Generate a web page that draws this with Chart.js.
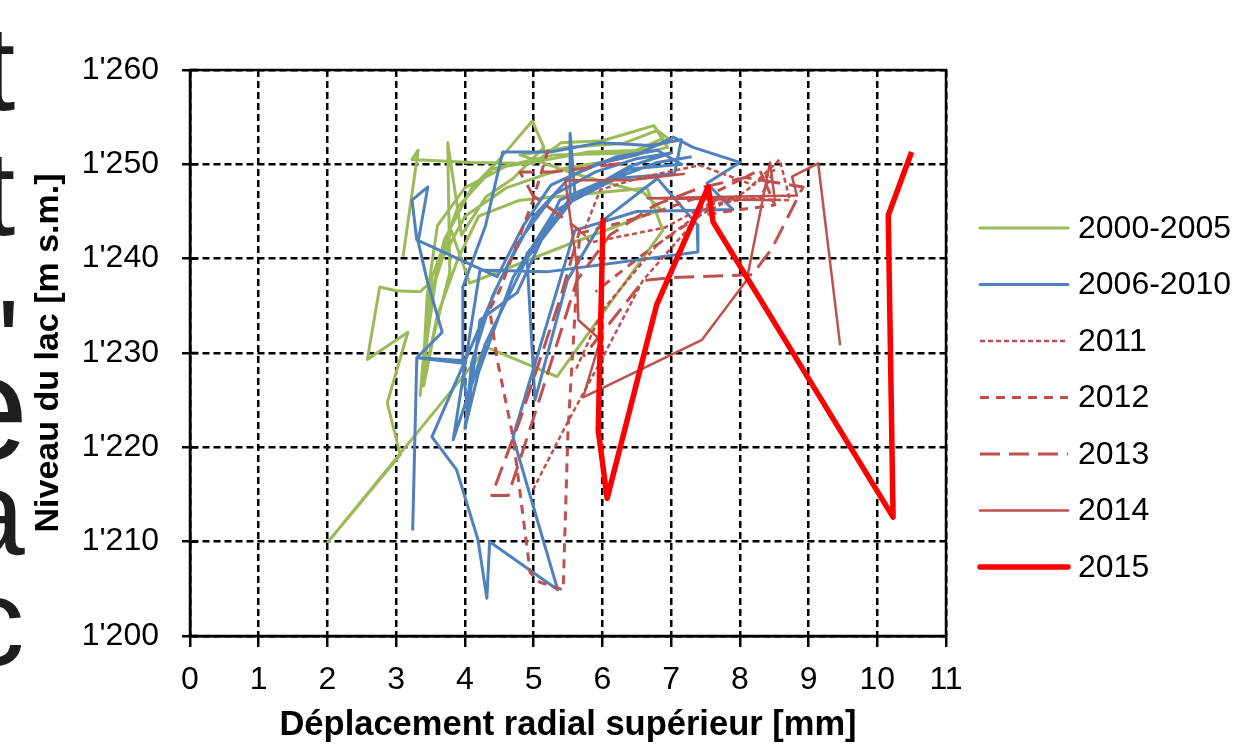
<!DOCTYPE html>
<html>
<head>
<meta charset="utf-8">
<script src="https://cdn.jsdelivr.net/npm/chart.js@4.4.0/dist/chart.umd.min.js"></script>
<style>
  html, body { margin: 0; padding: 0; background: #fff; overflow: hidden; }
  .page { position: relative; width: 1236px; height: 749px; }
  .chart-container { position: absolute; left: 0; top: 0; width: 1236px; height: 749px; }
  .edge-letter { position: absolute; font-family: 'Liberation Sans', Arial, sans-serif; line-height: 1; color: #1e1e1e; }
</style>
</head>
<body>
<div class="page">
  <div class="edge-letter" style="left:-18px; top:8px; font-size:120px;">t</div>
  <div class="edge-letter" style="left:-18px; top:133px; font-size:120px;">t</div>
  <div class="edge-letter" style="left:-3px; top:282px; font-size:120px;">'</div>
  <div class="edge-letter" style="left:-55px; top:333px; font-size:150px;">e</div>
  <div class="edge-letter" style="left:-42px; top:453px; font-size:120px;">a</div>
  <div class="edge-letter" style="left:-38px; top:559px; font-size:125px;">c</div>
  <div class="chart-container"><canvas id="chart" width="1236" height="749"></canvas></div>
</div>
<script>
// series names (legend order)
const seriesNames = ['2000-2005', '2006-2010', '2011', '2012', '2013', '2014', '2015'];

// axis ranges / ticks
const xMin = 0, xMax = 11, xStep = 1;
const yMin = 1200, yMax = 1260, yStep = 10;

// 2000-2005
const g0005X = [3.10, 3.32, 3.23, 4.10, 5.00, 5.40, 6.00, 6.75, 6.95, 6.20, 5.40, 4.60, 4.00, 3.60, 3.38, 3.35, 3.45, 3.70, 4.10, 4.50, 4.98, 5.15, 4.70, 4.30, 3.95, 3.75, 3.78, 3.55, 3.40, 3.50, 3.35, 3.00, 2.76, 2.58, 3.17, 2.87, 3.06, 2.01, 4.32, 5.34, 6.88, 6.65, 4.80, 4.20, 3.90, 3.60, 3.40, 3.50, 3.80, 4.07, 5.50, 6.85, 6.60, 5.60, 4.80, 5.50, 6.30, 6.80, 7.00, 6.60, 5.80,
  5.20, 4.60, 4.00, 3.60, 3.45, 3.38, 3.52, 3.90, 4.40, 5.30, 6.40, 6.90];
const g0005Y = [1240.2, 1251.5, 1250.5, 1250.2, 1250.1, 1252.3, 1252.5, 1254.1, 1251.8, 1250.5, 1249.5, 1247.5, 1244.5, 1239.0, 1228.0, 1225.5, 1234.0, 1242.0, 1247.5, 1250.5, 1254.6, 1251.8, 1248.5, 1246.5, 1242.5, 1252.3, 1238.5, 1232.0, 1226.5, 1237.5, 1236.5, 1236.6, 1237.0, 1229.3, 1232.2, 1224.7, 1219.2, 1210.0, 1230.6, 1227.5, 1243.0, 1247.5, 1246.2, 1244.5, 1240.0, 1234.0, 1227.0, 1236.0, 1243.0, 1237.4, 1241.5, 1245.2, 1247.0, 1249.0, 1251.0, 1251.8, 1252.2, 1253.6, 1252.5, 1251.5, 1251.3,
  1250.5, 1249.8, 1247.5, 1243.5, 1236.0, 1226.5, 1238.0, 1245.5, 1249.5, 1251.0, 1251.2, 1252.8];

// 2006-2010
const b0610X = [3.24, 3.30, 3.67, 3.45, 3.32, 3.46, 3.23, 3.30, 4.47, 4.85, 5.25, 5.90, 6.50, 7.03, 7.32, 8.00, 7.52, 7.90, 6.50, 5.60, 4.70, 5.35, 4.36, 4.32, 4.19, 3.88, 3.52, 4.51, 5.00, 5.55, 6.20, 6.80, 7.15, 6.40, 5.38, 4.76, 4.22, 4.04, 3.97, 3.30, 3.97, 3.97, 4.30, 4.55, 5.24, 5.97, 6.70, 7.15, 7.05, 6.20, 5.53, 5.53, 5.60, 4.90, 5.02, 5.49, 6.00, 6.80, 7.38, 7.39, 5.19, 4.22, 3.83, 4.30, 4.90, 5.60, 6.40, 7.00,
  6.50, 5.90, 5.30, 4.80, 4.40, 4.10, 4.00, 4.20, 4.70, 5.30, 6.00, 6.80, 7.30];
const b0610Y = [1211.2, 1229.5, 1232.2, 1237.7, 1241.8, 1247.6, 1246.2, 1242.0, 1238.1, 1243.5, 1247.8, 1250.0, 1251.0, 1252.9, 1251.8, 1250.2, 1248.0, 1245.2, 1245.0, 1243.0, 1221.1, 1204.9, 1210.0, 1204.0, 1210.2, 1217.6, 1221.1, 1237.7, 1244.5, 1248.8, 1250.8, 1251.5, 1250.0, 1249.5, 1246.2, 1236.4, 1233.5, 1223.6, 1228.9, 1229.5, 1229.2, 1237.0, 1243.5, 1251.3, 1251.3, 1252.3, 1252.0, 1252.6, 1249.0, 1248.5, 1246.0, 1253.3, 1247.0, 1240.5, 1225.0, 1237.7, 1244.0, 1248.5, 1243.6, 1240.7, 1238.6, 1238.8, 1220.8, 1231.0, 1240.0, 1246.5, 1249.8, 1251.2,
  1250.6, 1249.2, 1246.8, 1242.0, 1236.0, 1229.0, 1222.0, 1228.0, 1238.0, 1245.0, 1248.0, 1250.2, 1250.8];

// 2011
const y2011X = [4.99, 5.49, 6.01, 6.59, 7.42, 8.08, 8.58, 8.73, 7.71, 6.91, 5.82, 5.72, 5.97, 6.55, 7.42, 8.20, 8.50, 8.30, 7.60, 6.80, 6.00, 5.60];
const y2011Y = [1215.5, 1222.6, 1229.6, 1237.7, 1244.6, 1247.1, 1250.5, 1246.2, 1246.4, 1243.3, 1241.7, 1242.7, 1247.3, 1248.6, 1249.9, 1247.8, 1249.4, 1246.5, 1245.8, 1241.5, 1234.5, 1228.0];

// 2012
const y2012X = [5.21, 4.99, 4.51, 4.36, 4.47, 4.70, 4.95, 5.09, 5.43, 5.50, 5.57, 5.67, 6.26, 6.88, 7.71, 8.29, 8.51, 7.42, 6.60, 5.90];
const y2012Y = [1251.5, 1246.2, 1236.7, 1234.6, 1229.3, 1221.1, 1206.7, 1205.7, 1204.9, 1221.8, 1230.3, 1242.7, 1243.8, 1245.2, 1247.3, 1249.4, 1245.7, 1244.6, 1240.5, 1236.5];

// 2013
const y2013X = [6.26, 5.31, 4.80, 4.99, 5.67, 5.38, 4.80, 4.39, 4.63, 4.99, 5.28, 5.63, 6.11, 6.77, 7.42, 8.08, 8.92, 8.47, 8.18, 7.00, 6.60, 5.72];
const y2013Y = [1250.1, 1249.2, 1249.2, 1246.7, 1243.0, 1235.6, 1222.9, 1214.9, 1214.9, 1222.9, 1229.6, 1237.7, 1242.5, 1245.7, 1247.5, 1248.6, 1247.6, 1241.1, 1238.3, 1238.0, 1237.7, 1229.6];

// 2014
const y2014X = [7.20, 6.40, 5.46, 5.63, 5.65, 5.97, 5.72, 7.45, 8.10, 8.44, 8.51, 6.66, 8.83, 8.76, 9.14, 9.46];
const y2014Y = [1249.0, 1248.3, 1248.3, 1239.1, 1233.5, 1231.4, 1225.3, 1231.4, 1237.7, 1250.2, 1246.2, 1246.4, 1246.7, 1248.7, 1250.1, 1230.8];

// 2015
const y2015X = [6.01, 5.94, 6.07, 6.79, 7.54, 7.61, 10.23, 10.16, 10.50];
const y2015Y = [1244.3, 1221.8, 1214.6, 1235.1, 1247.6, 1243.9, 1212.6, 1244.6, 1251.3];

const seriesX = [g0005X, b0610X, y2011X, y2012X, y2013X, y2014X, y2015X];
const seriesY = [g0005Y, b0610Y, y2011Y, y2012Y, y2013Y, y2014Y, y2015Y];

const seriesStyle = [
  { color: '#9BBB59', width: 3, dash: [] },
  { color: '#4F81BD', width: 3, dash: [] },
  { color: '#C0504D', width: 2.5, dash: [5, 3] },
  { color: '#C0504D', width: 3, dash: [9, 7] },
  { color: '#C0504D', width: 3, dash: [20, 9] },
  { color: '#C0504D', width: 2.5, dash: [] },
  { color: '#FF0000', width: 5.5, dash: [] },
];

const FONT = "'Liberation Sans', Arial, sans-serif";

function toPoints(xs, ys) {
  return xs.map((x, i) => ({ x: x, y: ys[i] }));
}

function formatLevel(value) {
  const s = String(value);
  return s.slice(0, 1) + "'" + s.slice(1);
}

const datasets = seriesNames.map((name, i) => ({
  label: name,
  data: toPoints(seriesX[i], seriesY[i]),
  showLine: true,
  borderColor: seriesStyle[i].color,
  backgroundColor: seriesStyle[i].color,
  borderWidth: seriesStyle[i].width,
  borderDash: seriesStyle[i].dash,
  borderJoinStyle: 'round',
  pointRadius: 0,
  pointHoverRadius: 0,
  tension: 0,
  order: seriesNames.length - i,
}));

// solid frame round the plot area + inner half of the y ticks
const framePlugin = {
  id: 'frame',
  afterDraw(chart) {
    const { ctx, chartArea } = chart;
    const yScale = chart.scales.y;
    ctx.save();
    ctx.strokeStyle = '#000';
    ctx.lineWidth = 2.5;
    ctx.setLineDash([]);
    ctx.strokeRect(chartArea.left, chartArea.top, chartArea.right - chartArea.left, chartArea.bottom - chartArea.top);
    ctx.beginPath();
    yScale.ticks.forEach((t, i) => {
      const py = yScale.getPixelForTick(i);
      ctx.moveTo(chartArea.left, py);
      ctx.lineTo(chartArea.left + 8, py);
    });
    ctx.stroke();
    ctx.restore();
  },
};

// legend on the right, one row per series
const sideLegend = {
  id: 'sideLegend',
  afterDraw(chart) {
    const { ctx, chartArea } = chart;
    const lineLeft = chartArea.right + 34;
    const lineRight = lineLeft + 88;
    const textLeft = lineRight + 10;
    const firstRow = 228;
    const rowGap = 56.5;
    ctx.save();
    ctx.font = '32px ' + FONT;
    ctx.textBaseline = 'middle';
    ctx.fillStyle = '#000';
    chart.data.datasets.forEach((ds, i) => {
      const rowY = firstRow + i * rowGap;
      ctx.beginPath();
      ctx.strokeStyle = ds.borderColor;
      ctx.lineWidth = ds.borderWidth;
      ctx.setLineDash(ds.borderDash);
      ctx.lineCap = ds.borderDash.length ? 'butt' : 'round';
      ctx.moveTo(lineLeft, rowY);
      ctx.lineTo(lineRight, rowY);
      ctx.stroke();
      ctx.fillText(ds.label, textLeft, rowY + 1);
    });
    ctx.restore();
  },
};

const chartConfig = {
  type: 'scatter',
  data: { datasets: datasets },
  options: {
    responsive: false,
    animation: false,
    events: [],
    layout: { padding: { top: 70, right: 290, left: 0, bottom: 0 } },
    plugins: {
      legend: { display: false },
      tooltip: { enabled: false },
    },
    scales: {
      x: {
        type: 'linear',
        min: xMin,
        max: xMax,
        afterFit: scale => { scale.height = 113; },
        ticks: {
          stepSize: xStep,
          color: '#000',
          padding: 14,
          maxRotation: 0,
          font: { family: FONT, size: 32 },
        },
        grid: {
          color: '#000',
          lineWidth: 2.5,
          tickLength: 11,
          tickColor: '#000',
          tickWidth: 2.5,
          tickBorderDash: [],
        },
        border: { display: true, color: '#000', width: 2.5, dash: [7, 4] },
        title: {
          display: true,
          text: 'Déplacement radial supérieur [mm]',
          color: '#000',
          font: { family: FONT, size: 34.5, weight: 'bold' },
          padding: { top: 0, bottom: 3 },
        },
      },
      y: {
        type: 'linear',
        min: yMin,
        max: yMax,
        afterFit: scale => { scale.width = 190; },
        ticks: {
          stepSize: yStep,
          color: '#000',
          padding: 23,
          font: { family: FONT, size: 32 },
          callback: value => formatLevel(value),
        },
        grid: {
          color: '#000',
          lineWidth: 2.5,
          tickLength: 8,
          tickColor: '#000',
          tickWidth: 2.5,
          tickBorderDash: [],
        },
        border: { display: true, color: '#000', width: 2.5, dash: [7, 4] },
        title: {
          display: true,
          text: 'Niveau du lac [m s.m.]',
          color: '#000',
          font: { family: FONT, size: 34, weight: 'bold' },
          padding: { top: 28, bottom: 0 },
        },
      },
    },
  },
  plugins: [framePlugin, sideLegend],
};

const myChart = new Chart(document.getElementById('chart'), chartConfig);
</script>
</body>
</html>
